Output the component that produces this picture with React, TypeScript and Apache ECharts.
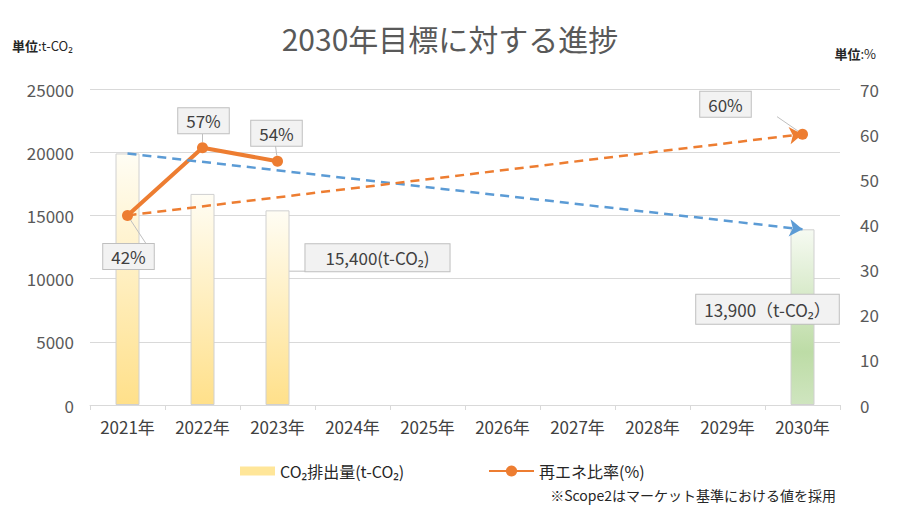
import React, { useEffect, useRef } from "react";
import * as echarts from "echarts";

const categories = ["2021年", "2022年", "2023年", "2024年", "2025年", "2026年", "2027年", "2028年", "2029年", "2030年"];
const co2Values = [19900, 16700, 15400, null, null, null, null, null, null, 13900];
const renewableValues = [42, 57, 54, null, null, null, null, null, null, 60];
const leftTicks = { min: 0, max: 25000, interval: 5000 };
const rightTicks = { min: 0, max: 70, interval: 10 };

const FONT = '"Noto Sans CJK JP", "Noto Sans", sans-serif';
const boxStyle = {
  backgroundColor: "#f2f2f2",
  borderColor: "#bfbfbf",
  borderWidth: 1,
  color: "#404040",
  fontSize: 17,
  fontFamily: FONT,
};

export default function App() {
  const ref = useRef<HTMLDivElement>(null);
  useEffect(() => {
    if (!ref.current) return;
    const chart = echarts.init(ref.current, null, { renderer: "svg" });
    const yellow = new echarts.graphic.LinearGradient(0, 0, 0, 1, [
      { offset: 0, color: "#fffdf4" },
      { offset: 1, color: "#ffe08a" },
    ]);
    const green = new echarts.graphic.LinearGradient(0, 0, 0, 1, [
      { offset: 0, color: "#f6faf2" },
      { offset: 0.7, color: "#bddca6" },
      { offset: 1, color: "#cfe5bf" },
    ]);
    const barOffsets: Record<number, number[]> = { 2: [100, -50], 9: [-35, -8] };
    const barData = co2Values.map((v, i) => {
      if (v == null) return null;
      const item: any = { value: v };
      if (i === 9) item.itemStyle = { color: green };
      if (barOffsets[i]) {
        const full = i === 9;
        item.label = {
          show: true,
          position: "inside",
          offset: barOffsets[i],
          padding: full ? [6, 8] : [5, 20],
          ...boxStyle,
          formatter: (p: any) =>
            Number(p.value).toLocaleString("en-US") + (full ? "（t-CO₂）" : "(t-CO₂)"),
        };
        item.labelLine = { show: !full, lineStyle: { color: "#bfbfbf", width: 1 } };
      }
      return item;
    });
    const lineOffsets: Record<number, number[]> = { 0: [1, 41], 1: [1, -27], 2: [-1, -28], 9: [-77, -30] };
    const lineData = renewableValues.map((v, i) => {
      if (v == null) return null;
      return {
        value: v,
        label: {
          show: true,
          position: "inside",
          offset: lineOffsets[i],
          padding: [4, 8],
          ...boxStyle,
          formatter: (p: any) => p.value + "%",
        },
        labelLine: { show: true, lineStyle: { color: "#bfbfbf", width: 1 } },
      };
    });

    const option: any = {
      animation: false,
      textStyle: { fontFamily: FONT },
      title: {
        text: "2030年目標に対する進捗",
        left: "center",
        top: 18,
        textStyle: { fontSize: 30, color: "#595959", fontWeight: "normal", fontFamily: FONT },
      },
      grid: { left: 90, right: 60, top: 89, bottom: 107 },
      legend: [
        {
          left: 235,
          top: 458,
          icon: "rect",
          itemWidth: 35,
          itemHeight: 9,
          data: [{ name: "CO₂排出量(t-CO₂)", itemStyle: { color: "#ffe699", borderWidth: 0 } }],
          textStyle: { fontSize: 16, color: "#262626", fontFamily: FONT },
        },
        {
          left: 483,
          top: 458,
          itemWidth: 45,
          itemHeight: 14,
          data: ["再エネ比率(%)"],
          textStyle: { fontSize: 16, color: "#262626", fontFamily: FONT },
        },
      ],
      xAxis: {
        type: "category",
        data: categories,
        axisLine: { lineStyle: { color: "#d9d9d9" } },
        axisTick: { show: true, length: 5, lineStyle: { color: "#d9d9d9" } },
        axisLabel: { fontSize: 17, color: "#404040", margin: 13, fontFamily: FONT },
      },
      yAxis: [
        {
          type: "value",
          ...leftTicks,
          axisLabel: { fontSize: 17, color: "#595959", margin: 16, fontFamily: FONT, formatter: (v: number) => String(v) },
          splitLine: { lineStyle: { color: "#d9d9d9" } },
          axisLine: { show: false },
          axisTick: { show: false },
        },
        {
          type: "value",
          position: "right",
          ...rightTicks,
          axisLabel: { fontSize: 17, color: "#595959", margin: 20, fontFamily: FONT },
          splitLine: { show: false },
          axisLine: { show: false },
          axisTick: { show: false },
        },
      ],
      series: [
        {
          name: "CO₂排出量(t-CO₂)",
          type: "bar",
          barWidth: 24,
          data: barData,
          itemStyle: { color: yellow, borderColor: "#d0d0d0", borderWidth: 1 },
          markLine: {
            silent: true,
            symbol: ["none", "arrow"],
            symbolSize: 13,
            label: { show: false },
            lineStyle: { color: "#5b9bd5", type: [9, 6], width: 2.5 },
            data: [
              [
                { coord: [categories[0], co2Values[0]] },
                { coord: [categories[9], co2Values[9]] },
              ],
            ],
          },
          z: 1,
        },
        {
          name: "再エネ比率(%)",
          type: "line",
          yAxisIndex: 1,
          data: lineData,
          symbol: "circle",
          symbolSize: 11,
          color: "#ed7d31",
          lineStyle: { width: 4, color: "#ed7d31" },
          itemStyle: { color: "#ed7d31" },
          markLine: {
            silent: true,
            symbol: ["none", "arrow"],
            symbolSize: 13,
            label: { show: false },
            lineStyle: { color: "#ed7d31", type: [9, 6], width: 2.5 },
            data: [
              [
                { coord: [categories[0], renewableValues[0]] },
                { coord: [categories[9], renewableValues[9]] },
              ],
            ],
          },
          z: 3,
        },
      ],
      graphic: [
        {
          type: "text",
          left: 12,
          top: 39,
          style: {
            text: "{b|単位}:t-CO₂",
            fontSize: 13,
            fill: "#262626",
            fontFamily: FONT,
            rich: { b: { fontSize: 13, fontWeight: "bold", fill: "#262626", fontFamily: FONT } },
          },
        },
        {
          type: "text",
          right: 24,
          top: 47,
          style: {
            text: "{b|単位}:%",
            fontSize: 13,
            fill: "#262626",
            fontFamily: FONT,
            rich: { b: { fontSize: 13, fontWeight: "bold", fill: "#262626", fontFamily: FONT } },
          },
        },
        {
          type: "text",
          right: 64,
          top: 488,
          style: { text: "※Scope2はマーケット基準における値を採用", fontSize: 14, fill: "#262626", fontFamily: FONT },
        },
      ],
    };
    chart.setOption(option);
    return () => chart.dispose();
  }, []);
  return <div ref={ref} style={{ width: 900, height: 512, position: "absolute", left: 0, top: 0 }} />;
}
